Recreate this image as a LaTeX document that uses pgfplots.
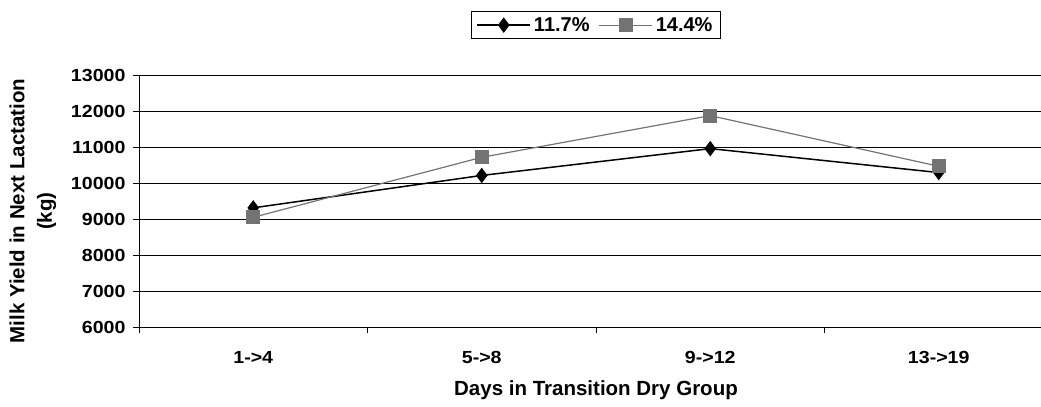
\documentclass[border=0pt]{standalone}
\usepackage{fontspec}
\setmainfont{Liberation Sans}
\newfontfamily\tickfont{Liberation Sans}[FakeStretch=1.12]
\usepackage{pgfplots}
\pgfplotsset{compat=1.18}
\definecolor{sgray}{RGB}{115,115,115}
\begin{document}
\begin{tikzpicture}
\path[use as bounding box] (-139bp,-80bp) rectangle (902bp,327bp);
\begin{axis}[
  at={(0,0)}, anchor=south west,
  scale only axis,
  width=914bp, height=252bp,
  xmin=-0.5, xmax=3.5, ymin=6000, ymax=13000,
  ytick={6000,7000,...,13000},
  scaled y ticks=false,
  xtick={0,1,2,3},
  xticklabels={1->4,5->8,9->12,13->19},
  minor xtick={-0.5,0.5,1.5,2.5,3.5},
  major x tick style={draw=none},
  minor x tick style={black, line width=0.8bp},
  major y tick style={black, line width=0.8bp},
  tick align=outside,
  major tick length=6bp, minor tick length=6bp,
  axis x line*=bottom, axis y line*=left,
  axis line style={black, line width=0.9bp},
  ymajorgrids,
  major grid style={black, line width=0.8bp},
  /pgf/number format/assume math mode=true,
  /pgf/number format/1000 sep={},
  yticklabel={\pgfmathprintnumber{\tick}},
  ticklabel style={font=\tickfont\bfseries\fontsize{17.5bp}{20bp}\selectfont},
  xticklabel style={anchor=center, yshift=-24bp},
  yticklabel style={anchor=east, xshift=-4bp},
  ylabel={Milk Yield in Next Lactation\\(kg)},
  ylabel style={at={(axis description cs:-0.116,0.46)}, anchor=center, align=center,
    font=\bfseries\fontsize{20.5bp}{27.5bp}\selectfont},
  xlabel={Days in Transition Dry Group},
  xlabel style={at={(axis description cs:0.5,-0.25)}, anchor=center,
    font=\bfseries\fontsize{20.5bp}{24bp}\selectfont},
  legend columns=2,
  legend style={at={(axis description cs:0.5,1.198)}, anchor=center,
    draw=black, line width=0.8bp, inner xsep=5bp, inner ysep=3bp,
    font=\bfseries\fontsize{20bp}{24bp}\selectfont,
    /tikz/every even column/.append style={column sep=6bp},
    nodes={inner sep=3bp}},
  legend image code/.code={\draw[mark repeat=2,mark phase=2,#1] plot coordinates {(0bp,0bp) (26.5bp,0bp) (53bp,0bp)};},
  clip=false,
]
\addplot[black, line width=1.5bp, mark=diamond*, mark size=6.5bp,
  mark options={solid, fill=black}]
  coordinates {(0,9310) (1,10210) (2,10955) (3,10290)};
\addlegendentry{11.7\%}
\addplot[sgray, line width=1.2bp, mark=square*, mark size=6.5bp,
  mark options={solid, fill=sgray, draw=sgray}]
  coordinates {(0,9047) (1,10714) (2,11872) (3,10464)};
\addlegendentry{14.4\%}
\end{axis}
\end{tikzpicture}
\end{document}
